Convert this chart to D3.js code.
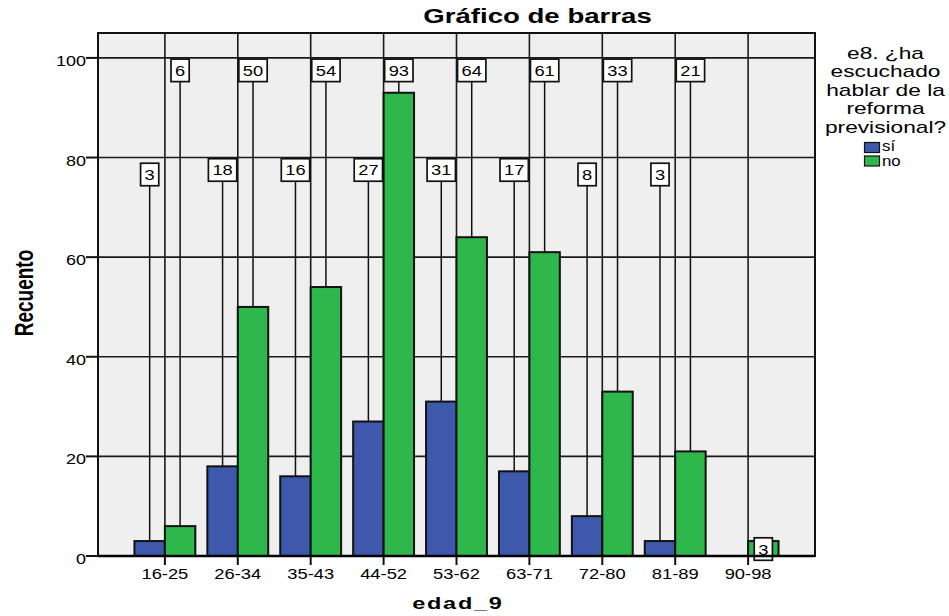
<!DOCTYPE html>
<html lang="es">
<head>
    <meta charset="UTF-8">
    <title>Gráfico de barras</title>
    <style>
        body {
            margin: 0;
            background: #fff;
        }

        text {
            font-family: "Liberation Sans", Arial, sans-serif;
            fill: #000;
        }

        .grid line {
            stroke: #1a1a1a;
            stroke-width: 1.6px;
        }

        .bar {
            stroke: #111;
            stroke-width: 2px;
        }

        .callout line {
            stroke: #111;
            stroke-width: 1.5px;
        }

        .callout rect {
            fill: #fff;
            stroke: #111;
            stroke-width: 1.7px;
        }
    </style>
</head>
<body>
<svg width="949" height="616"></svg>
<script src="https://d3js.org/d3.v7.min.js"></script>
<script>
    // data
    const ageGroups = ["16-25", "26-34", "35-43", "44-52", "53-62", "63-71", "72-80", "81-89", "90-98"];
    const countSi = [3, 18, 16, 27, 31, 17, 8, 3, 0];
    const countNo = [6, 50, 54, 93, 64, 61, 33, 21, 3];
    const seriesNames = ["sí", "no"];
    const seriesColors = ["#3e59ab", "#2eb84b"];
    const yTicks = [0, 20, 40, 60, 80, 100];
    const legendTitle = ["e8. ¿ha", "escuchado", "hablar de la", "reforma", "previsional?"];

    const svg = d3.select("svg");
    const plot = {left: 98, top: 33, right: 815, bottom: 556};

    const x = d3.scaleBand()
        .domain(ageGroups)
        .range([plot.left, plot.right])
        .paddingInner(0.165)
        .paddingOuter(0.5);

    const xSub = d3.scaleBand()
        .domain(seriesNames)
        .range([0, x.bandwidth()]);

    const y = d3.scaleLinear()
        .domain([0, 105])
        .range([plot.bottom, plot.top]);

    const color = d3.scaleOrdinal().domain(seriesNames).range(seriesColors);

    // rows of the value boxes, as counts on the y axis
    const labelRow = {"sí": 77.5, "no": 97.5};

    // the original picture is stretched sideways, so text gets a x-scale too
    function stretchedText(parent, px, py, str, size, sx, anchor, weight) {
        let g = parent.append("g").attr("transform", "translate(" + px + "," + py + ") scale(" + sx + ",1)");
        return g.append("text")
            .attr("text-anchor", anchor || "start")
            .style("font-size", size + "px")
            .style("font-weight", weight || "normal")
            .text(str);
    }

    let rows = ageGroups.map(function (g, i) {
        return {group: g, values: [{key: "sí", value: countSi[i]}, {key: "no", value: countNo[i]}]};
    });

    // plot background
    svg.append("rect")
        .attr("x", plot.left).attr("y", plot.top)
        .attr("width", plot.right - plot.left).attr("height", plot.bottom - plot.top)
        .attr("fill", "#efefef");

    // grid
    let grid = svg.append("g").attr("class", "grid");
    grid.selectAll(".h").data(yTicks.slice(1)).enter().append("line")
        .attr("x1", plot.left).attr("x2", plot.right)
        .attr("y1", d => y(d)).attr("y2", d => y(d));
    grid.selectAll(".v").data(ageGroups).enter().append("line")
        .attr("x1", d => x(d) + x.bandwidth() / 2).attr("x2", d => x(d) + x.bandwidth() / 2)
        .attr("y1", plot.top).attr("y2", plot.bottom);

    // bars
    let groups = svg.selectAll(".group").data(rows).enter().append("g")
        .attr("transform", d => "translate(" + x(d.group) + ",0)");

    groups.selectAll("rect").data(d => d.values.filter(v => v.value > 0)).enter().append("rect")
        .attr("class", "bar")
        .attr("x", d => xSub(d.key))
        .attr("width", xSub.bandwidth())
        .attr("y", d => y(d.value))
        .attr("height", d => y(0) - y(d.value))
        .attr("fill", d => color(d.key));

    // value boxes with leader lines
    let callouts = [];
    rows.forEach(function (r) {
        let lonely = r.values[0].value === 0;
        r.values.forEach(function (v) {
            if (v.value <= 0) return;
            let cx = x(r.group) + xSub(v.key) + xSub.bandwidth() / 2;
            let cy = lonely ? y(v.value) + 8 : y(labelRow[v.key]);
            // single digit boxes in the lower row sit a little lower
            if (!lonely && v.key === "sí" && v.value < 10) cy += 4.5;
            callouts.push({cx: cx, cy: cy, top: y(v.value), value: v.value, leader: !lonely});
        });
    });

    let co = svg.selectAll(".callout").data(callouts).enter().append("g").attr("class", "callout");
    co.filter(d => d.leader).append("line")
        .attr("x1", d => d.cx).attr("x2", d => d.cx)
        .attr("y1", d => d.cy + 11).attr("y2", d => d.top);
    co.each(function (d) {
        let g = d3.select(this);
        let box = g.append("rect");
        let t = stretchedText(g, d.cx, d.cy + 5.5, d.value, 15, 1.22, "middle");
        let w = t.node().getComputedTextLength() * 1.22 + 8;
        box.attr("x", d.cx - w / 2).attr("y", d.cy - 11.25)
            .attr("width", w).attr("height", 22.5);
    });

    // frame
    svg.append("rect")
        .attr("x", plot.left).attr("y", plot.top)
        .attr("width", plot.right - plot.left).attr("height", plot.bottom - plot.top)
        .attr("fill", "none").attr("stroke", "#111").attr("stroke-width", 2);
    svg.append("line")
        .attr("x1", plot.left).attr("x2", plot.right)
        .attr("y1", plot.bottom).attr("y2", plot.bottom)
        .attr("stroke", "#000").attr("stroke-width", 2.5);

    // y axis
    let yAxis = svg.append("g");
    yTicks.forEach(function (t) {
        yAxis.append("line")
            .attr("x1", plot.left - 12).attr("x2", plot.left)
            .attr("y1", y(t)).attr("y2", y(t))
            .attr("stroke", "#111").attr("stroke-width", 2);
        stretchedText(yAxis, plot.left - 12, y(t) + 8, t, 15, 1.2, "end");
    });

    // x axis
    let xAxis = svg.append("g");
    ageGroups.forEach(function (g) {
        let cx = x(g) + x.bandwidth() / 2;
        xAxis.append("line")
            .attr("x1", cx).attr("x2", cx)
            .attr("y1", plot.bottom).attr("y2", plot.bottom + 9)
            .attr("stroke", "#111").attr("stroke-width", 2);
        stretchedText(xAxis, cx, 579, g, 14, 1.31, "middle");
    });

    // titles
    stretchedText(svg, 537.5, 23, "Gráfico de barras", 20, 1.38, "middle", "bold");
    stretchedText(svg, 457, 609, "edad_9", 17, 1.38, "middle", "bold")
        .attr("textLength", 65).attr("lengthAdjust", "spacing");
    svg.append("g")
        .attr("transform", "translate(33,293) scale(1.38,1) rotate(-90)")
        .append("text")
        .attr("text-anchor", "middle")
        .style("font-size", "19px")
        .style("font-weight", "bold")
        .text("Recuento");

    // legend
    let legend = svg.append("g");
    legendTitle.forEach(function (line, i) {
        stretchedText(legend, 885.5, 59 + i * 18.4, line, 16, 1.42, "middle");
    });
    seriesNames.forEach(function (s, i) {
        legend.append("rect")
            .attr("x", 864.5).attr("y", 142.5 + i * 13.5)
            .attr("width", 15).attr("height", 10)
            .attr("fill", color(s)).attr("stroke", "#111").attr("stroke-width", 1.2);
        stretchedText(legend, 882, 151 + i * 14.5, s, 14, 1.2, "start");
    });
</script>
</body>
</html>
